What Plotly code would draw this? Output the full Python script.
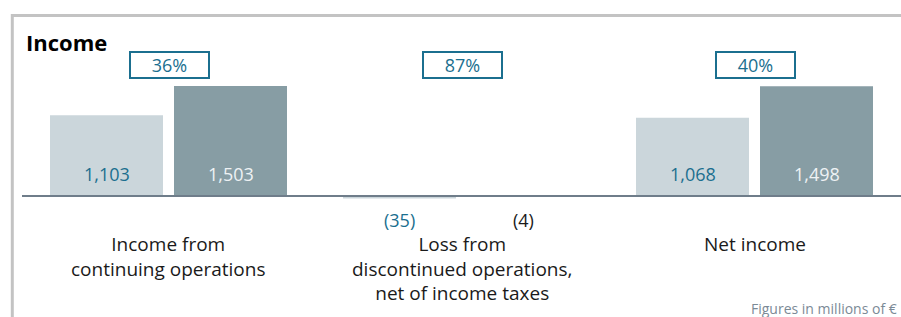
import plotly.graph_objects as go

# ---- data ----
categories = ["Income from<br>continuing operations",
              "Loss from<br>discontinued operations,<br>net of income taxes",
              "Net income"]
prior_year = [1103, -35, 1068]
current_year = [1503, -4, 1498]
prior_labels = ["1,103", "(35)", "1,068"]
current_labels = ["1,503", "(4)", "1,498"]
change_labels = ["36%", "87%", "40%"]

W, H = 901, 317
TEAL = "#1b6f8f"
LIGHT = "#cbd6db"
DARK = "#879da4"
FONT = "Open Sans"

# pixel geometry -> axis ranges
base_px = 196.0
px_per_unit_y = 110.0 / 1503.0
unit_x = 293.0
cx0 = 168.5
x_range = [-cx0 / unit_x, (W - cx0) / unit_x]
y_range = [-(H - base_px) / px_per_unit_y, base_px / px_per_unit_y]

xs = list(range(len(categories)))

fig = go.Figure()
fig.add_trace(go.Bar(x=xs, y=prior_year, marker=dict(color=LIGHT, line=dict(width=0)),
                     hoverinfo="skip"))
fig.add_trace(go.Bar(x=xs, y=current_year, marker=dict(color=DARK, line=dict(width=0)),
                     hoverinfo="skip"))

annotations = []
slot = 62
VAL = 18
for i in xs:
    # value labels
    if prior_year[i] >= 0:
        annotations.append(dict(x=i, y=0, xref="x", yref="y", text=prior_labels[i],
                                xshift=-slot, yshift=22, showarrow=False,
                                font=dict(family=FONT, size=VAL, color=TEAL)))
        annotations.append(dict(x=i, y=0, xref="x", yref="y", text=current_labels[i],
                                xshift=slot, yshift=22, showarrow=False,
                                font=dict(family=FONT, size=VAL, color="#eef2f4")))
    else:
        annotations.append(dict(x=i, y=0, xref="x", yref="y", text=prior_labels[i],
                                xshift=-slot, yshift=-24, showarrow=False,
                                font=dict(family=FONT, size=VAL, color=TEAL)))
        annotations.append(dict(x=i, y=0, xref="x", yref="y", text=current_labels[i],
                                xshift=slot, yshift=-24, showarrow=False,
                                font=dict(family=FONT, size=VAL, color="#1a1a1a")))
    # change boxes
    annotations.append(dict(x=i, y=0, xref="x", yref="y", text=change_labels[i],
                             xshift=0.5, yshift=base_px - 65, showarrow=False,
                             width=77, height=24, bordercolor=TEAL, borderwidth=2,
                             borderpad=0, bgcolor="white",
                             font=dict(family=FONT, size=VAL, color=TEAL)))
    # category labels
    annotations.append(dict(x=i, y=0, xref="x", yref="y", text=categories[i],
                            yshift=-33, yanchor="top", showarrow=False, align="center",
                            font=dict(family=FONT, size=19, color="#1a1a1a")))

annotations.append(dict(x=24 / W, y=1 - 42 / H, xref="paper", yref="paper",
                        text="<b>Income</b>", xanchor="left", yanchor="middle",
                        showarrow=False, font=dict(family=FONT, size=22, color="#000000")))
annotations.append(dict(x=899 / W, y=1 - 308 / H, xref="paper", yref="paper",
                        text="Figures in millions of €", xanchor="right", yanchor="middle",
                        showarrow=False, font=dict(family=FONT, size=14, color="#7b8a96")))

shapes = [
    # frame
    dict(type="line", xref="paper", yref="paper", x0=12.3 / W, x1=12.3 / W,
         y0=0, y1=1 - 14 / H, line=dict(color="#c3c3c3", width=3)),
    dict(type="line", xref="paper", yref="paper", x0=11 / W, x1=1,
         y0=1 - 15.5 / H, y1=1 - 15.5 / H, line=dict(color="#c3c3c3", width=3)),
    # baseline
    dict(type="line", xref="x", yref="y", x0=-0.5, x1=x_range[1], y0=0, y1=0,
         line=dict(color="#6f7d8a", width=2)),
]

fig.update_layout(
    width=W, height=H, margin=dict(l=0, r=0, t=0, b=0),
    paper_bgcolor="white", plot_bgcolor="white",
    barmode="group", bargap=0.1536, bargroupgap=0.0887,
    showlegend=False,
    xaxis=dict(range=x_range, visible=False, fixedrange=True),
    yaxis=dict(range=y_range, visible=False, fixedrange=True),
    annotations=annotations, shapes=shapes,
)

fig.write_html("out.html", config={"displayModeBar": False},
               post_script="document.body.style.margin='0';document.body.style.overflow='hidden';")
